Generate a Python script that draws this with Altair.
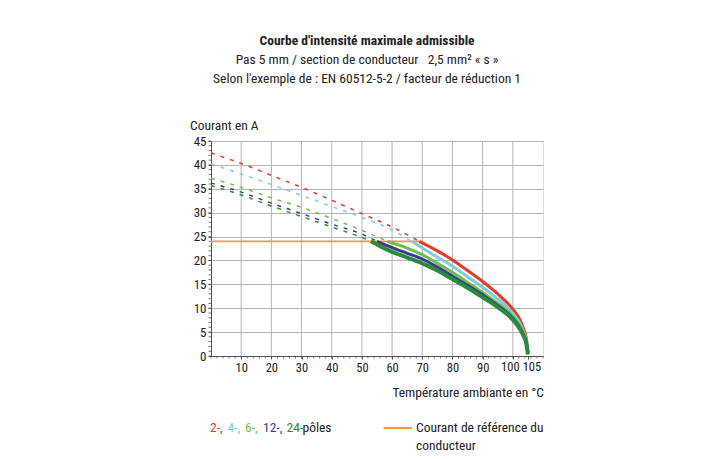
import altair as alt
import pandas as pd

# ---------------- data ----------------
title_lines = [
    "Courbe d'intensité maximale admissible",
    "Pas 5 mm / section de conducteur \u00a0 2,5 mm\u00b2 \u00ab s \u00bb",
    "Selon l'exemple de : EN 60512-5-2 / facteur de réduction 1",
]
y_title = "Courant en A"
x_title = "Température ambiante en °C"

series = ["2", "4", "6", "12", "24"]
colors = ["#e5392b", "#80cdd6", "#6cbf4f", "#3b3a92", "#2b8a3e"]
solid_widths = [3, 3, 3, 3, 4]

dash_T = {
    "2": [0, 10, 20, 30, 40, 50, 60, 69],
    "4": [0, 10, 20, 30, 40, 50, 60, 66.5],
    "6": [0, 10, 20, 30, 40, 50, 58.5],
    "12": [0, 10, 20, 30, 40, 50, 55],
    "24": [0, 10, 20, 30, 40, 50, 53],
}
dash_I = {
    "2": [42.5, 40.3, 37.8, 35.3, 32.6, 29.8, 27.0, 24.0],
    "4": [40.2, 38.1, 35.9, 33.6, 31.3, 29.0, 26.4, 24.0],
    "6": [37.2, 35.3, 33.1, 31.1, 28.8, 26.3, 24.0],
    "12": [36.2, 34.3, 32.0, 29.8, 27.6, 25.5, 24.0],
    "24": [35.7, 33.7, 31.4, 29.2, 27.0, 24.8, 24.0],
}
solid_T = {
    "2": [69, 75, 80, 85, 90, 95, 100, 102, 103.5, 104.5, 105],
    "4": [66.5, 70, 75, 80, 85, 90, 95, 100, 102, 103.5, 104.5, 105],
    "6": [58.5, 65, 70, 75, 80, 85, 90, 95, 100, 102, 103.5, 104.5, 105],
    "12": [55, 60, 65, 70, 75, 80, 85, 90, 95, 100, 102, 103.5, 104.5, 105],
    "24": [53, 56, 60, 65, 70, 75, 80, 85, 90, 95, 100, 102, 103.5, 104.5, 105],
}
solid_I = {
    "2": [24.0, 22.0, 20.1, 17.9, 15.6, 13.0, 9.8, 8.0, 5.8, 3.6, 0.8],
    "4": [24.0, 22.6, 20.7, 18.8, 16.6, 14.4, 11.9, 8.9, 7.2, 5.2, 3.2, 0.7],
    "6": [24.0, 22.6, 21.2, 19.4, 17.5, 15.4, 13.3, 11.0, 8.3, 6.7, 4.8, 2.9, 0.6],
    "12": [24.0, 22.7, 21.5, 20.3, 18.6, 16.7, 14.8, 12.8, 10.6, 7.9, 6.3, 4.5, 2.7, 0.5],
    "24": [24.0, 23.0, 21.8, 20.6, 19.4, 17.9, 16.1, 14.3, 12.3, 10.2, 7.6, 6.0, 4.3, 2.5, 0.3],
}
ref_T = [0, 69]
ref_I = [24, 24]
ref_color = "#f39c32"

x_ticks = [10, 20, 30, 40, 50, 60, 70, 80, 90, 100, 105]
x_grid = [10, 20, 30, 40, 50, 60, 70, 80, 90, 100]
y_ticks = [0, 5, 10, 15, 20, 25, 30, 35, 40, 45]
x_minor = list(range(0, 111, 2))
y_minor = list(range(0, 46, 1))
# the two crowded labels at the right end, drawn by hand with a small shift
end_labels = ["100", "105"]
end_label_shift = [-2.5, 4]

legend_left = "Courant de référence du"
legend_left2 = "conducteur"
legend_pieces = ["2-,", "4-,", "6-,", "12-,", "24-", "pôles"]
legend_piece_colors = colors + ["#222222"]
legend_piece_x = [-1, 16.5, 34, 52, 75.5, 91.5]

# ---------------- chart ----------------
W, H = 332, 215
FONT = "'Roboto Condensed', 'Liberation Sans Narrow', 'Arial Narrow', Roboto"
GRID = "#b4b4b4"
XMAX = 110

xs = alt.Scale(domain=[0, XMAX], nice=False, zero=True)
ys = alt.Scale(domain=[0, 45], nice=False, zero=True)
xaxis = alt.Axis(values=x_ticks, grid=False, title=None, tickSize=3, labelFontSize=12.5,
                 labelFont=FONT, labelColor="#222", domainColor="#555", tickColor="#555",
                 labelPadding=2, labelFlush=False, labelOverlap=False,
                 labelExpr="datum.value >= 100 ? '' : datum.label")
yaxis = alt.Axis(values=y_ticks, grid=True, gridColor=GRID, title=None, tickSize=3,
                 labelFontSize=13, labelFont=FONT, labelColor="#222", domainColor="#555",
                 tickColor="#555", labelPadding=2, labelOverlap=False)


def X(f="T"):
    return alt.X(f"{f}:Q", scale=xs, axis=xaxis)


def Y(f="I"):
    return alt.Y(f"{f}:Q", scale=ys, axis=yaxis)


layers = []

# vertical grid lines
layers.append(
    alt.Chart(pd.DataFrame({"T": x_grid})).mark_rule(color=GRID, strokeWidth=1).encode(x=X())
)

# minor ticks
layers.append(
    alt.Chart(pd.DataFrame({"T": x_minor})).mark_rule(color="#555", strokeWidth=0.8).encode(
        x=X(), y=alt.value(H), y2=alt.value(H + 2.5)
    )
)
layers.append(
    alt.Chart(pd.DataFrame({"I": y_minor})).mark_rule(color="#555", strokeWidth=0.8).encode(
        y=Y(), x=alt.value(-2.5), x2=alt.value(0)
    )
)

# dashed extrapolations
for s, c in zip(series, colors):
    df = pd.DataFrame({"T": dash_T[s], "I": dash_I[s]})
    layers.append(
        alt.Chart(df).mark_line(color=c, strokeWidth=1.5, strokeDash=[4, 6], interpolate="monotone")
        .encode(x=X(), y=Y())
    )

# reference current
layers.append(
    alt.Chart(pd.DataFrame({"T": ref_T, "I": ref_I})).mark_line(color=ref_color, strokeWidth=1.8)
    .encode(x=X(), y=Y())
)

# solid derating curves
for s, c, w in zip(series, colors, solid_widths):
    df = pd.DataFrame({"T": solid_T[s], "I": solid_I[s]})
    layers.append(
        alt.Chart(df).mark_line(color=c, strokeWidth=w, interpolate="monotone")
        .encode(x=X(), y=Y())
    )

# hand-placed end labels (100, 105)
layers.append(
    alt.Chart(pd.DataFrame({"T": [float(v) for v in end_labels], "lab": end_labels,
                            "dx": end_label_shift}))
    .mark_text(font=FONT, fontSize=12.5, color="#222", baseline="top", align="center")
    .transform_calculate(Tpos=f"datum.T + datum.dx * {XMAX} / {W}")
    .encode(x=alt.X("Tpos:Q", scale=xs, axis=xaxis), y=alt.value(H + 5), text="lab:N")
)


# text helpers
def txt(text, x, y, size=13, weight="normal", align="left", color="#222"):
    return alt.Chart(pd.DataFrame({"t": [text]})).mark_text(
        font=FONT, fontSize=size, fontWeight=weight, align=align, baseline="middle", color=color
    ).encode(text="t:N", x=alt.value(x), y=alt.value(y))


layers.append(txt(title_lines[0], 156, -100, size=13.5, weight="bold", align="center"))
layers.append(txt(title_lines[1], 156, -81, size=13.5, align="center"))
layers.append(txt(title_lines[2], 156, -62, size=13.5, align="center"))
layers.append(txt(y_title, -21, -15, size=13.5))
layers.append(txt(x_title, W + 1, 252, size=13.5, align="right"))

for p, c, xx in zip(legend_pieces, legend_piece_colors, legend_piece_x):
    layers.append(txt(p, xx, 287, size=13.5, color=c))

layers.append(
    alt.Chart(pd.DataFrame({"a": [0]})).mark_rule(color=ref_color, strokeWidth=2.2).encode(
        x=alt.value(172.5), x2=alt.value(201), y=alt.value(287)
    )
)
layers.append(txt(legend_left, 205, 287, size=13.5))
layers.append(txt(legend_left2, 205, 305, size=13.5))

chart = alt.layer(*layers).properties(
    width=W,
    height=H,
    autosize=alt.AutoSizeParams(type="none"),
    padding={"left": 203, "top": 133, "right": 165, "bottom": 100},
).configure_view(stroke=GRID, strokeWidth=1.2).configure(background="white")

chart.save("out.html", embed_options={"renderer": "svg", "actions": False})
